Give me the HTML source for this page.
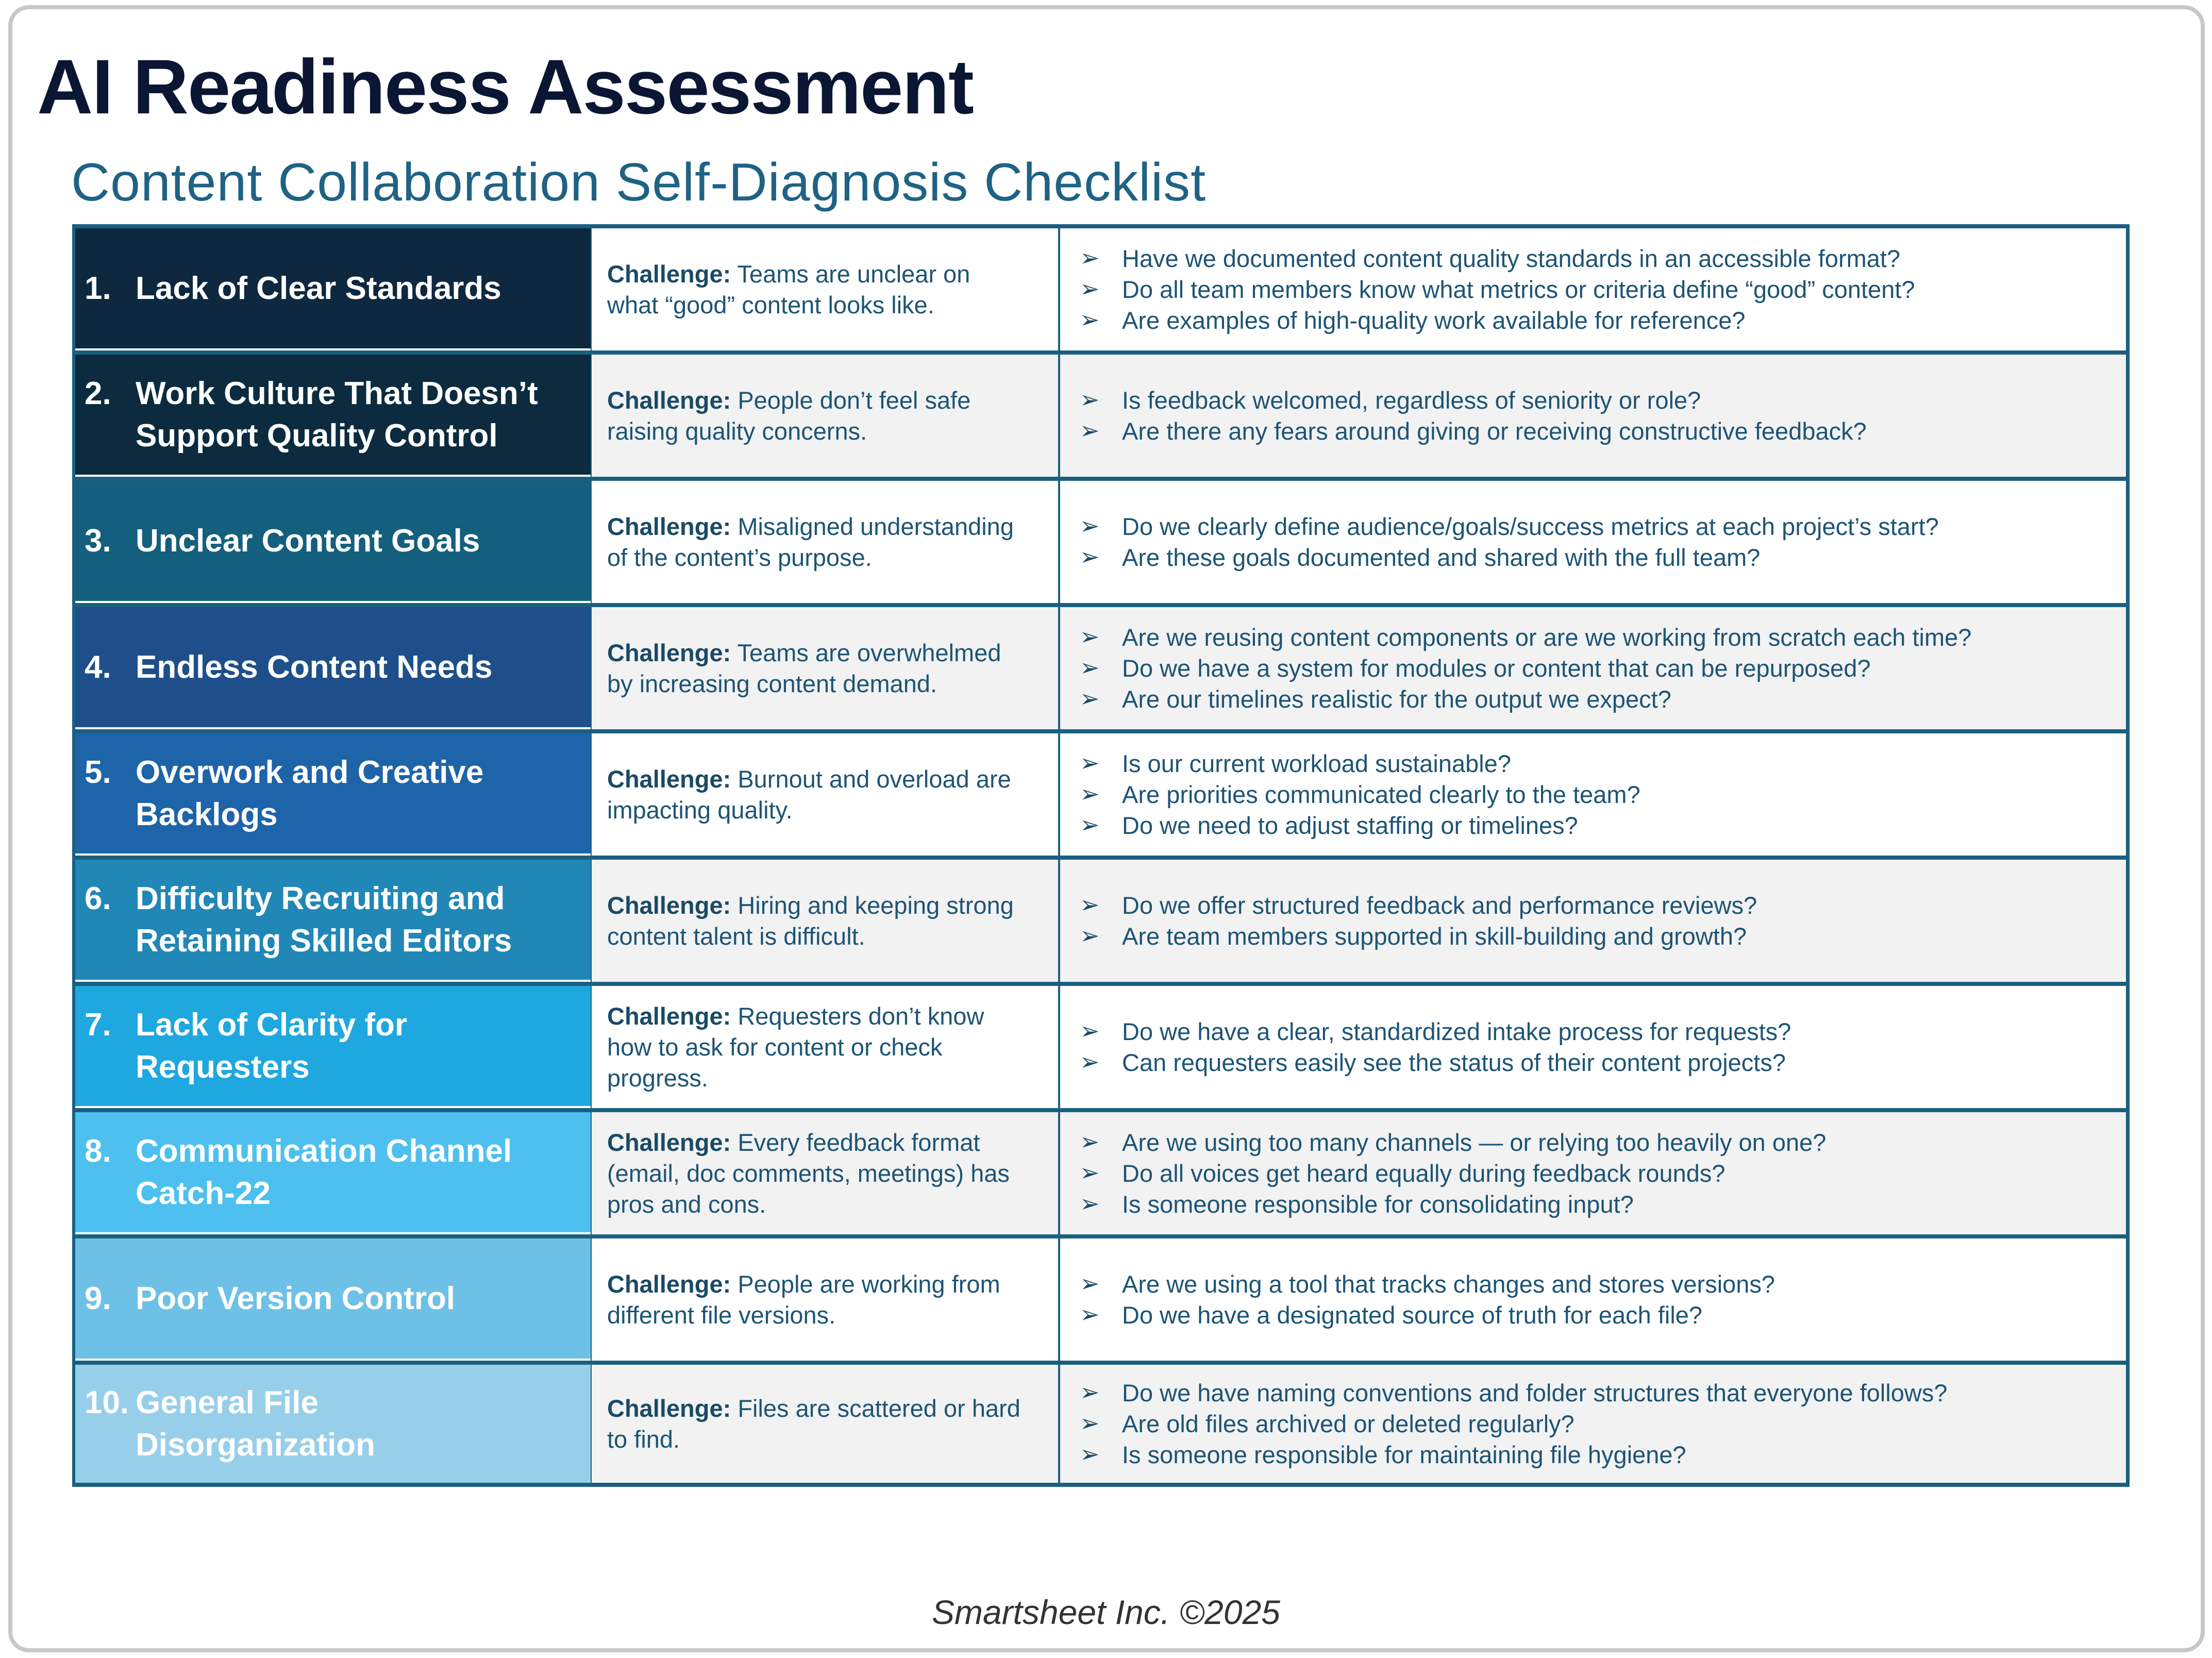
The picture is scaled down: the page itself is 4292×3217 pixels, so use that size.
<!DOCTYPE html>
<html><head><meta charset="utf-8"><style>
*{margin:0;padding:0;box-sizing:border-box}
body{width:4292px;height:3217px;background:#fff;position:relative;font-family:"Liberation Sans",sans-serif;overflow:hidden}
.frame{position:absolute;left:16px;top:10px;width:4262px;height:3196px;border:8px solid #c8c8c6;border-radius:40px}
h1{position:absolute;left:72px;top:82px;font-size:150px;font-weight:bold;color:#0a1633;letter-spacing:-2px}
h2{position:absolute;left:138px;top:295px;font-size:104px;font-weight:normal;color:#1f6284;letter-spacing:1px}
.tbl{position:absolute;left:140px;top:435px;width:3992px;height:2450px;background:#1a5f80}
.row{position:absolute;left:0;width:3992px;height:245px}
.c1,.c2,.c3{position:absolute;top:8px;bottom:0;display:flex;align-items:center}
.c1{left:6px;width:1000px;color:#fff;font-weight:bold;font-size:62px;line-height:82px;border-bottom:4px solid #fff}
.c1 .in{position:relative;padding-left:117px;padding-right:70px}
.c1 .n{position:absolute;left:18px;top:0}
.c2{left:1008px;width:905px;font-size:47px;line-height:60px;color:#1d5475;padding:0 60px 0 30px}
.c2 b{color:#1a4a66}
.c3{left:1917px;width:2068px;font-size:47px;line-height:60px;color:#1d5475;padding-left:38px}
.c3 div{position:relative;padding-left:82px;white-space:nowrap}
.c3 div:before{content:"➢";position:absolute;left:0;top:-2px;font-family:"DejaVu Sans",sans-serif;font-size:46px;color:#1a4a66}
.w{background:#fff}.g{background:#f2f2f2}
.foot{position:absolute;left:0;width:4292px;top:3090px;text-align:center;font-style:italic;font-size:66px;color:#333}
</style></head><body>
<div class="frame"></div>
<h1>AI Readiness Assessment</h1>
<h2>Content Collaboration Self-Diagnosis Checklist</h2>
<div class="tbl">
<div class="row" style="top:0"><div class="c1" style="background:#0e2840"><div class="in"><span class="n">1.</span>Lack of Clear Standards</div></div><div class="c2 w"><span><b>Challenge:</b> Teams are unclear on what “good” content looks like.</span></div><div class="c3 w"><span><div>Have we documented content quality standards in an accessible format?</div><div>Do all team members know what metrics or criteria define “good” content?</div><div>Are examples of high-quality work available for reference?</div></span></div></div>
<div class="row" style="top:245px"><div class="c1" style="background:#0c2b3e"><div class="in"><span class="n">2.</span>Work Culture That Doesn’t Support Quality Control</div></div><div class="c2 g"><span><b>Challenge:</b> People don’t feel safe raising quality concerns.</span></div><div class="c3 g"><span><div>Is feedback welcomed, regardless of seniority or role?</div><div>Are there any fears around giving or receiving constructive feedback?</div></span></div></div>
<div class="row" style="top:490px"><div class="c1" style="background:#145f7e"><div class="in"><span class="n">3.</span>Unclear Content Goals</div></div><div class="c2 w"><span><b>Challenge:</b> Misaligned understanding of the content’s purpose.</span></div><div class="c3 w"><span><div>Do we clearly define audience/goals/success metrics at each project’s start?</div><div>Are these goals documented and shared with the full team?</div></span></div></div>
<div class="row" style="top:735px"><div class="c1" style="background:#1e4f8a"><div class="in"><span class="n">4.</span>Endless Content Needs</div></div><div class="c2 g"><span><b>Challenge:</b> Teams are overwhelmed by increasing content demand.</span></div><div class="c3 g"><span><div>Are we reusing content components or are we working from scratch each time?</div><div>Do we have a system for modules or content that can be repurposed?</div><div>Are our timelines realistic for the output we expect?</div></span></div></div>
<div class="row" style="top:980px"><div class="c1" style="background:#1d64a9"><div class="in"><span class="n">5.</span>Overwork and Creative Backlogs</div></div><div class="c2 w"><span><b>Challenge:</b> Burnout and overload are impacting quality.</span></div><div class="c3 w"><span><div>Is our current workload sustainable?</div><div>Are priorities communicated clearly to the team?</div><div>Do we need to adjust staffing or timelines?</div></span></div></div>
<div class="row" style="top:1225px"><div class="c1" style="background:#2087b6"><div class="in"><span class="n">6.</span>Difficulty Recruiting and Retaining Skilled Editors</div></div><div class="c2 g"><span><b>Challenge:</b> Hiring and keeping strong content talent is difficult.</span></div><div class="c3 g"><span><div>Do we offer structured feedback and performance reviews?</div><div>Are team members supported in skill-building and growth?</div></span></div></div>
<div class="row" style="top:1470px"><div class="c1" style="background:#1fa7df"><div class="in"><span class="n">7.</span>Lack of Clarity for Requesters</div></div><div class="c2 w"><span><b>Challenge:</b> Requesters don’t know how to ask for content or check progress.</span></div><div class="c3 w"><span><div>Do we have a clear, standardized intake process for requests?</div><div>Can requesters easily see the status of their content projects?</div></span></div></div>
<div class="row" style="top:1715px"><div class="c1" style="background:#4dc0ef"><div class="in"><span class="n">8.</span>Communication Channel Catch-22</div></div><div class="c2 g"><span><b>Challenge:</b> Every feedback format (email, doc comments, meetings) has pros and cons.</span></div><div class="c3 g"><span><div>Are we using too many channels — or relying too heavily on one?</div><div>Do all voices get heard equally during feedback rounds?</div><div>Is someone responsible for consolidating input?</div></span></div></div>
<div class="row" style="top:1960px"><div class="c1" style="background:#6dc1e6"><div class="in"><span class="n">9.</span>Poor Version Control</div></div><div class="c2 w"><span><b>Challenge:</b> People are working from different file versions.</span></div><div class="c3 w"><span><div>Are we using a tool that tracks changes and stores versions?</div><div>Do we have a designated source of truth for each file?</div></span></div></div>
<div class="row" style="top:2205px;height:237px"><div class="c1" style="background:#97cfea;border-bottom:0"><div class="in" style="padding-right:200px"><span class="n">10.</span>General File Disorganization</div></div><div class="c2 g"><span><b>Challenge:</b> Files are scattered or hard to find.</span></div><div class="c3 g"><span><div>Do we have naming conventions and folder structures that everyone follows?</div><div>Are old files archived or deleted regularly?</div><div>Is someone responsible for maintaining file hygiene?</div></span></div></div>
</div>
<div class="foot">Smartsheet Inc. ©2025</div>
</body></html>
